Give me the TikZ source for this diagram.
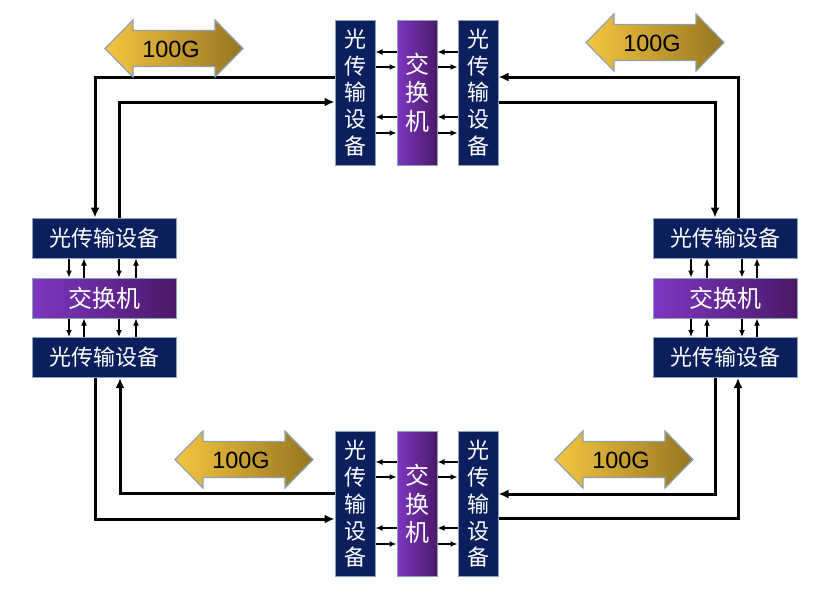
\documentclass[tikz,border=0pt]{standalone}
\usepackage{fontspec}
\setmainfont{Liberation Sans}
\newfontfamily\cjk{Noto Sans CJK SC}
\usetikzlibrary{arrows.meta}

\definecolor{navy}{HTML}{0B1F5E}
\definecolor{edgeblue}{HTML}{8CA2B4}
\definecolor{purpleL}{HTML}{7E36C2}
\definecolor{purpleR}{HTML}{4B1968}
\definecolor{goldL}{HTML}{F6C640}
\definecolor{goldM}{HTML}{E6B434}
\definecolor{goldR}{HTML}{957520}

\tikzset{
  otn/.style={draw=edgeblue, line width=1pt, fill=navy, text=white, inner sep=0pt,
    align=center, font=\cjk\fontsize{22}{26.7}\selectfont},
  otnv/.style={otn, minimum width=40pt, minimum height=145pt},
  otnh/.style={otn, minimum width=144pt, minimum height=40pt},
  switchbox/.style={draw=edgeblue, line width=1pt, left color=purpleL, right color=purpleR,
    text=white, inner sep=0pt, align=center, font=\cjk\fontsize{24}{28.5}\selectfont},
  switchv/.style={switchbox, minimum width=40pt, minimum height=145pt},
  switchh/.style={switchbox, minimum width=144pt, minimum height=40pt},
  goldarrow/.style={draw=edgeblue, line width=1.2pt, left color=goldL, middle color=goldM, right color=goldR},
  ratelabel/.style={font=\fontsize{23.5}{26}\selectfont, inner sep=0pt},
  smallarr/.style={-{Latex[length=7pt,width=6pt]}, line width=1.2pt},
  ringline/.style={-{Latex[length=10pt,width=9pt]}, line width=3pt}
}

\begin{document}
\begin{tikzpicture}[x=1pt,y=-1pt]
  \useasboundingbox (0,0) rectangle (826,595);

  % top and bottom groups (vertical boxes)
  \foreach \g/\cy in {t/92.5,b/504}
  {
    \node[otnv] (oL-\g) at (355,\cy) {光\\传\\输\\设\\备};
    \node[switchv] (sw-\g) at (417,\cy) {交\\换\\机};
    \node[otnv] (oR-\g) at (478,\cy) {光\\传\\输\\设\\备};
  }

  % left and right groups (horizontal boxes)
  \foreach \g/\cx in {l/104,r/725}
  {
    \node[otnh] (oT-\g) at (\cx,238) {光传输设备};
    \node[switchh] (sw-\g) at (\cx,298) {交换机};
    \node[otnh] (oB-\g) at (\cx,357.5) {光传输设备};
  }

  % links between switch and transport boxes
  \foreach \g/\ya/\yb/\yc/\yd in {t/52/67/117/133,b/462/477/528/544}
  {
    \foreach \y in {\ya,\yc}
    {
      \draw[smallarr] (sw-\g.west |- 0,\y) -- (oL-\g.east |- 0,\y);
      \draw[smallarr] (oR-\g.west |- 0,\y) -- (sw-\g.east |- 0,\y);
    }
    \foreach \y in {\yb,\yd}
    {
      \draw[smallarr] (oL-\g.east |- 0,\y) -- (sw-\g.west |- 0,\y);
      \draw[smallarr] (sw-\g.east |- 0,\y) -- (oR-\g.west |- 0,\y);
    }
  }
  \foreach \g/\xa/\xb/\xc/\xd in {l/69/84/119/136,r/691/707/742/757}
  {
    \foreach \x in {\xa,\xc}
    {
      \draw[smallarr] (oT-\g.south -| \x,0) -- (sw-\g.north -| \x,0);
      \draw[smallarr] (sw-\g.south -| \x,0) -- (oB-\g.north -| \x,0);
    }
    \foreach \x in {\xb,\xd}
    {
      \draw[smallarr] (sw-\g.north -| \x,0) -- (oT-\g.south -| \x,0);
      \draw[smallarr] (oB-\g.north -| \x,0) -- (sw-\g.south -| \x,0);
    }
  }

  % 100G ring
  \draw[ringline] (oL-t.west |- 0,77) -| (oT-l.north -| 95,0);
  \draw[ringline] (oT-l.north -| 119,0) |- (oL-t.west |- 0,102);
  \draw[ringline] (oR-t.east |- 0,102) -| (oT-r.north -| 715,0);
  \draw[ringline] (oT-r.north -| 738,0) |- (oR-t.east |- 0,77);
  \draw[ringline] (oB-r.south -| 715,0) |- (oR-b.east |- 0,494);
  \draw[ringline] (oR-b.east |- 0,518) -| (oB-r.south -| 738,0);
  \draw[ringline] (oL-b.west |- 0,493) -| (oB-l.south -| 120,0);
  \draw[ringline] (oB-l.south -| 95,0) |- (oL-b.west |- 0,519);

  % rate arrows
  \foreach \n/\cx/\cy in {a/174/48.5,b/655/42.5,c/244/459.5,d/624/459.5}
  {
    \shadedraw[goldarrow] ({\cx-69},\cy) -- ++(28,-28.5) -- ++(0,10.5) -- ++(82,0)
      -- ++(0,-10.5) -- ++(28,28.5) -- ++(-28,28.5) -- ++(0,-10.5) -- ++(-82,0)
      -- ++(0,10.5) -- cycle;
    \node[ratelabel] (rate-\n) at ({\cx-3},{\cy+0.5}) {100G};
  }
\end{tikzpicture}
\end{document}
